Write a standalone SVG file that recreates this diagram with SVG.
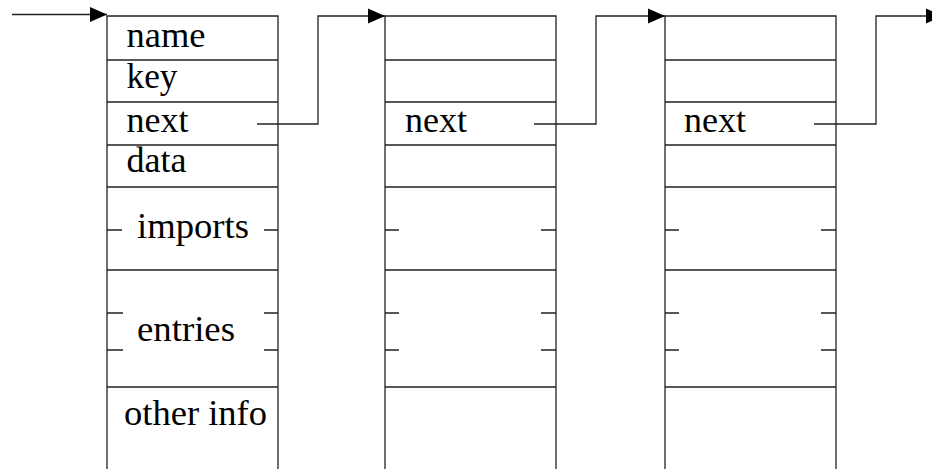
<svg xmlns="http://www.w3.org/2000/svg" width="932" height="469" viewBox="0 0 932 469">
<style>
.b{fill:none;stroke:#222;stroke-width:1.3}
.c{fill:none;stroke:#222;stroke-width:1.3}
text{font-family:"Liberation Serif","Times New Roman",serif;font-size:35px;fill:#000}
</style>
<defs>
<marker id="ah" markerUnits="userSpaceOnUse" markerWidth="17" markerHeight="16" refX="17" refY="8" orient="auto">
<path d="M0,0.5 L17,8 L0,15.5 z" fill="#000"/>
</marker>
</defs>
<g id="node1">
<path class="b" d="M107,469 V16 H278 V469 M107,60 H278 M107,102 H278 M107,145 H278 M107,187 H278 M107,270 H278 M107,387 H278"/>
<path class="b" d="M107,230 H122 M264,230 H278 M107,313 H123 M264,313 H278 M107,350 H123 M264,350 H278"/>
<text x="126.5" y="46.5" textLength="79" lengthAdjust="spacingAndGlyphs">name</text>
<text x="126.5" y="87.5" textLength="51" lengthAdjust="spacingAndGlyphs">key</text>
<text x="126.5" y="132" textLength="62" lengthAdjust="spacingAndGlyphs">next</text>
<text x="126.5" y="172" textLength="60" lengthAdjust="spacingAndGlyphs">data</text>
<text x="137" y="238" textLength="112" lengthAdjust="spacingAndGlyphs">imports</text>
<text x="137" y="341" textLength="98" lengthAdjust="spacingAndGlyphs">entries</text>
<text x="124" y="425" textLength="143" lengthAdjust="spacingAndGlyphs">other info</text>
</g>
<g id="node2">
<path class="b" d="M385,469 V16 H556 V469 M385,60 H556 M385,102 H556 M385,145 H556 M385,187 H556 M385,270 H556 M385,387 H556"/>
<path class="b" d="M385,230 H399 M541,230 H556 M385,313 H399 M541,313 H556 M385,350 H399 M541,350 H556"/>
<text x="405" y="132" textLength="62" lengthAdjust="spacingAndGlyphs">next</text>
</g>
<g id="node3">
<path class="b" d="M665,469 V16 H836 V469 M665,60 H836 M665,102 H836 M665,145 H836 M665,187 H836 M665,270 H836 M665,387 H836"/>
<path class="b" d="M665,230 H679 M821,230 H836 M665,313 H679 M821,313 H836 M665,350 H679 M821,350 H836"/>
<text x="684" y="132" textLength="62" lengthAdjust="spacingAndGlyphs">next</text>
</g>
<g id="connectors">
<path class="c" d="M12,14.5 H107" marker-end="url(#ah)"/>
<path class="c" d="M257,124 H318 V16 H385" marker-end="url(#ah)"/>
<path class="c" d="M534,124 H596 V16 H665" marker-end="url(#ah)"/>
<path class="c" d="M814,124 H876 V16 H943" marker-end="url(#ah)"/>
</g>
</svg>
